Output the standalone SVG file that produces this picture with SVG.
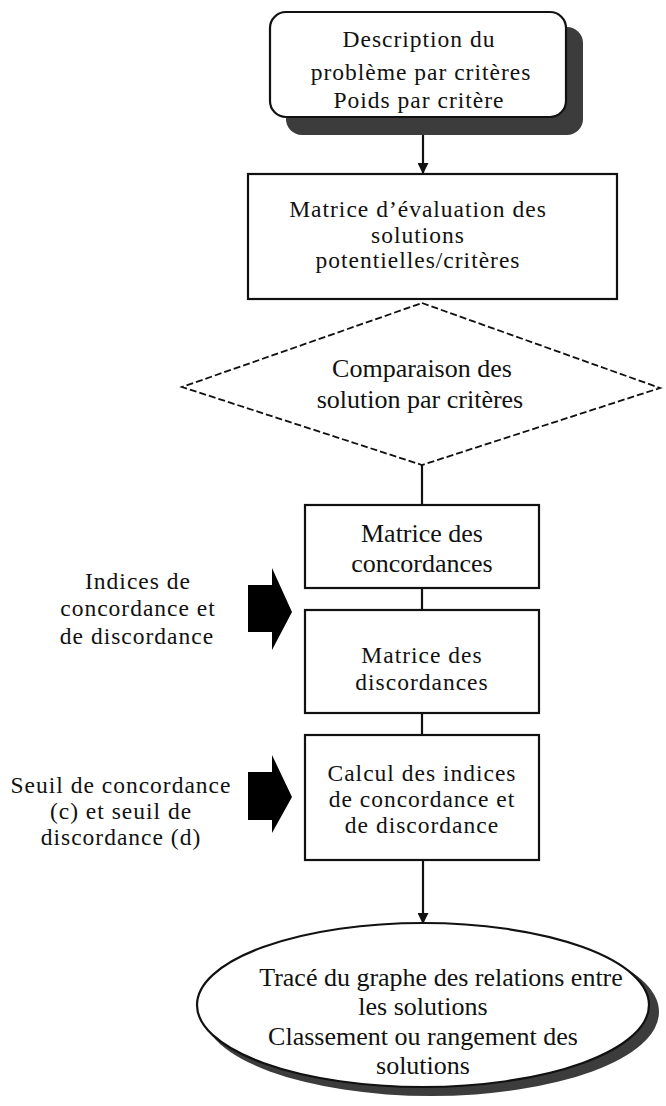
<svg xmlns="http://www.w3.org/2000/svg" width="666" height="1106" viewBox="0 0 666 1106">
  <defs>
    <style>
      .t { font-family: "Liberation Serif", "Times New Roman", serif; font-size: 26px; fill: #111; text-anchor: middle; }
      .s { font-size: 23.5px; letter-spacing: 1px; }
      .box { fill: #fff; stroke: #111; stroke-width: 2.2; }
      .shadow { fill: #3c3c3c; }
      .conn { stroke: #111; stroke-width: 2.2; fill: none; }
      .dash { fill: #fff; stroke: #111; stroke-width: 1.8; stroke-dasharray: 7 3; }
      .blk { fill: #000; }
    </style>
    <marker id="ah" viewBox="0 0 10 10" refX="9" refY="5" markerWidth="5" markerHeight="5" orient="auto">
      <path d="M0,0 L10,5 L0,10 z" fill="#111"/>
    </marker>
  </defs>
  <rect width="666" height="1106" fill="#fff"/>

  <g id="connectors">
    <line class="conn" x1="423" y1="134" x2="423" y2="173" marker-end="url(#ah)"/>
    <line class="conn" x1="422" y1="465" x2="422" y2="505"/>
    <line class="conn" x1="422" y1="588" x2="422" y2="610"/>
    <line class="conn" x1="422" y1="713" x2="422" y2="735"/>
    <line class="conn" x1="423" y1="860" x2="423" y2="923" marker-end="url(#ah)"/>
  </g>

  <g id="n1">
    <rect class="shadow" x="286" y="27" width="297" height="108" rx="16"/>
    <rect class="box" x="270" y="12" width="296" height="105" rx="16"/>
    <text class="t s" x="419" y="47">Description du</text>
    <text class="t s" x="421" y="80">problème  par critères</text>
    <text class="t s" x="419" y="108">Poids par critère</text>
  </g>

  <g id="n2">
    <rect class="box" x="248" y="174" width="369" height="125"/>
    <text class="t s" x="418" y="217">Matrice d’évaluation des</text>
    <text class="t s" x="418" y="243">solutions</text>
    <text class="t s" x="418" y="268">potentielles/critères</text>
  </g>

  <g id="n3">
    <polygon class="dash" points="422,303 660,388 422,465 182,387"/>
    <text class="t" x="422" y="377">Comparaison des</text>
    <text class="t" x="420" y="408">solution par critères</text>
  </g>

  <g id="n4">
    <rect class="box" x="305" y="505" width="234" height="83"/>
    <text class="t" x="422" y="542">Matrice des</text>
    <text class="t" x="422" y="572">concordances</text>
  </g>

  <g id="n5">
    <rect class="box" x="305" y="610" width="234" height="103"/>
    <text class="t s" x="422" y="663">Matrice des</text>
    <text class="t s" x="422" y="690">discordances</text>
  </g>

  <g id="n6">
    <rect class="box" x="305" y="735" width="234" height="125"/>
    <text class="t s" x="422" y="781">Calcul des indices</text>
    <text class="t s" x="422" y="807">de concordance et</text>
    <text class="t s" x="422" y="833">de discordance</text>
  </g>

  <g id="n7">
    <ellipse class="shadow" cx="431" cy="1012" rx="228" ry="84"/>
    <ellipse class="box" cx="423" cy="1005" rx="226" ry="82"/>
    <text class="t" x="441" y="986">Tracé du graphe des relations entre</text>
    <text class="t" x="423" y="1015">les solutions</text>
    <text class="t" x="423" y="1045">Classement ou rangement des</text>
    <text class="t" x="423" y="1074">solutions</text>
  </g>

  <g id="n8">
    <polygon class="blk" points="248,585 272,585 272,568 292,612 272,650 272,632 248,632"/>
    <text class="t s" x="138" y="589">Indices de</text>
    <text class="t s" x="138" y="616">concordance et</text>
    <text class="t s" x="137" y="644">de discordance</text>
  </g>

  <g id="n9">
    <polygon class="blk" points="248,772 272,772 272,755 292,797 272,833 272,820 248,820"/>
    <text class="t s" x="121" y="793">Seuil de concordance</text>
    <text class="t s" x="121" y="819">(c) et seuil de</text>
    <text class="t s" x="121" y="845">discordance (d)</text>
  </g>
</svg>
